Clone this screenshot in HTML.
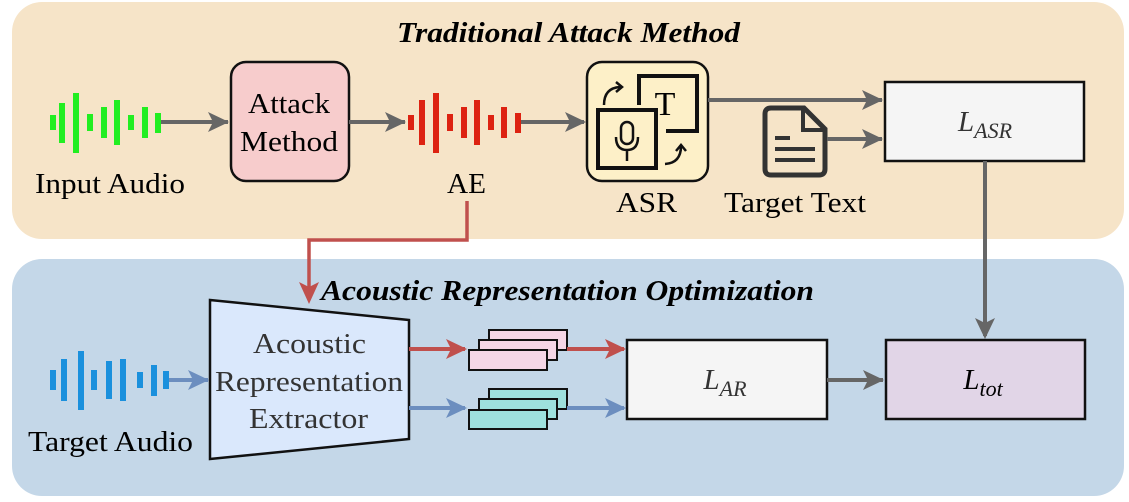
<!DOCTYPE html>
<html><head><meta charset="utf-8"><style>
html,body{margin:0;padding:0;background:#fff;}
svg{display:block;}
svg text{font-family:"Liberation Serif","Times New Roman","DejaVu Serif",serif !important;}
</style></head><body>
<svg width="1129" height="502" viewBox="0 0 1129 502" xmlns="http://www.w3.org/2000/svg" font-family="Liberation Serif, Times New Roman, DejaVu Serif, serif">
<!-- panels -->
<rect x="12" y="2" width="1112" height="237" rx="30" fill="#f6e4c8"/>
<rect x="12" y="259" width="1112" height="237" rx="30" fill="#c4d7e8"/>
<text x="397" y="42" font-size="29" font-weight="bold" font-style="italic" textLength="343" lengthAdjust="spacingAndGlyphs">Traditional Attack Method</text>
<text x="321" y="300" font-size="29" font-weight="bold" font-style="italic" textLength="493" lengthAdjust="spacingAndGlyphs">Acoustic Representation Optimization</text>

<!-- green waveform -->
<g fill="#22ee22">
<rect x="50" y="115" width="6" height="15"/><rect x="59" y="103" width="6" height="40"/><rect x="73" y="93" width="6" height="60"/>
<rect x="87" y="114" width="6" height="17"/><rect x="101" y="107" width="6" height="31"/><rect x="114" y="100" width="6" height="45"/>
<rect x="128" y="115" width="6" height="15"/><rect x="142" y="107" width="6" height="31"/><rect x="155" y="113" width="6" height="20"/>
</g>
<line x1="161" y1="122" x2="228" y2="122" stroke="#666" stroke-width="4"/>
<path d="M208,112 L229,122 L208,132 L213,122z" fill="#666"/>
<text x="35" y="193" font-size="29" textLength="150" lengthAdjust="spacingAndGlyphs">Input Audio</text>

<rect x="231" y="62" width="118" height="119" rx="15" fill="#f7cccc" stroke="#111" stroke-width="2.5"/>
<text x="248" y="113" font-size="29" textLength="82" lengthAdjust="spacingAndGlyphs">Attack</text>
<text x="240" y="151" font-size="29" textLength="98" lengthAdjust="spacingAndGlyphs">Method</text>
<line x1="349" y1="122" x2="405" y2="122" stroke="#666" stroke-width="4"/>
<path d="M385,112 L406,122 L385,132 L390,122z" fill="#666"/>

<!-- red waveform -->
<g fill="#dd2211">
<rect x="408" y="115" width="6" height="15"/><rect x="419" y="100" width="6" height="45"/><rect x="433" y="93" width="6" height="60"/>
<rect x="447" y="114" width="6" height="17"/><rect x="461" y="107" width="6" height="31"/><rect x="474" y="100" width="6" height="45"/>
<rect x="488" y="115" width="6" height="15"/><rect x="501" y="107" width="6" height="31"/><rect x="515" y="113" width="6" height="20"/>
</g>
<line x1="521" y1="122" x2="584" y2="122" stroke="#666" stroke-width="4"/>
<path d="M565,112 L586,122 L565,132 L570,122z" fill="#666"/>
<text x="447" y="193" font-size="29" textLength="39" lengthAdjust="spacingAndGlyphs">AE</text>

<!-- ASR -->
<rect x="587" y="62" width="121" height="119" rx="15" fill="#fdf0c8" stroke="#111" stroke-width="2.5"/>
<path d="M639,105 L639,76 L697,76 L697,131 L666,131" fill="none" stroke="#111" stroke-width="4"/>
<text x="665" y="115" font-size="34" text-anchor="middle">T</text>
<rect x="598" y="110" width="58" height="58" fill="none" stroke="#111" stroke-width="4"/>
<rect x="621" y="122" width="12" height="22" rx="6" fill="none" stroke="#111" stroke-width="2.5"/>
<path d="M616,137 Q616,150 627,150 Q638,150 638,137 M627,150 L627,161" fill="none" stroke="#111" stroke-width="2.5"/>
<path d="M604,105 Q604,88 620,87" fill="none" stroke="#111" stroke-width="2.5"/>
<path d="M616,82 L622,87 L616,92" fill="none" stroke="#111" stroke-width="2.5"/>
<path d="M665,164 Q681,163 681,146" fill="none" stroke="#111" stroke-width="2.5"/>
<path d="M676,151 L681,145 L686,151" fill="none" stroke="#111" stroke-width="2.5"/>
<text x="616" y="212" font-size="29" textLength="61" lengthAdjust="spacingAndGlyphs">ASR</text>

<line x1="708" y1="100" x2="882" y2="100" stroke="#666" stroke-width="4"/>
<path d="M862,90 L883,100 L862,110 L867,100z" fill="#666"/>

<!-- document icon -->
<path d="M771,108 L804,108 L825,129 L825,169 Q825,175 819,175 L771,175 Q765,175 765,169 L765,114 Q765,108 771,108z" fill="none" stroke="#333" stroke-width="5"/>
<path d="M803,108 L803,130 L825,130" fill="none" stroke="#333" stroke-width="4"/>
<path d="M775,138 L790,138 M775,149 L815,149 M775,160 L815,160" stroke="#333" stroke-width="4"/>
<line x1="827" y1="139" x2="882" y2="139" stroke="#666" stroke-width="4"/>
<path d="M862,129 L883,139 L862,149 L867,139z" fill="#666"/>
<text x="724" y="212" font-size="29" textLength="142" lengthAdjust="spacingAndGlyphs">Target Text</text>

<rect x="885" y="82" width="199" height="79" fill="#f5f5f5" stroke="#111" stroke-width="2.5"/>
<text x="985" y="131" font-size="29" font-style="italic" text-anchor="middle" fill="#333">L<tspan font-size="22" dy="7">ASR</tspan></text>
<line x1="985" y1="161" x2="985" y2="336" stroke="#666" stroke-width="4"/>
<path d="M975,318 L985,339 L995,318 L985,323z" fill="#666"/>

<!-- red connector -->
<path d="M467,201 L467,240 L309,240 L309,298" fill="none" stroke="#c0504d" stroke-width="3.5"/>
<path d="M299,282 L309,304 L319,282 L309,287z" fill="#c0504d"/>

<!-- blue waveform -->
<g fill="#1a90dd">
<rect x="50" y="370" width="6" height="20"/><rect x="61" y="359" width="6" height="42"/><rect x="78" y="351" width="6" height="59"/>
<rect x="91" y="370" width="6" height="20"/><rect x="106" y="361" width="6" height="38"/><rect x="120" y="359" width="6" height="42"/>
<rect x="137" y="372" width="6" height="16"/><rect x="151" y="365" width="6" height="31"/><rect x="163" y="371" width="6" height="18"/>
</g>
<line x1="169" y1="380" x2="208" y2="380" stroke="#6c8ebf" stroke-width="4"/>
<path d="M188,370 L209,380 L188,390 L193,380z" fill="#6c8ebf"/>
<text x="28" y="451" font-size="29" textLength="165" lengthAdjust="spacingAndGlyphs">Target Audio</text>

<path d="M210,300 L409,320 L409,439 L210,459z" fill="#dae8fc" stroke="#111" stroke-width="2.5"/>
<g font-size="29" fill="#333">
<text x="253" y="353" textLength="113" lengthAdjust="spacingAndGlyphs">Acoustic</text>
<text x="215" y="391" textLength="188" lengthAdjust="spacingAndGlyphs">Representation</text>
<text x="249" y="428" textLength="119" lengthAdjust="spacingAndGlyphs">Extractor</text>
</g>

<line x1="409" y1="349" x2="465" y2="349" stroke="#c0504d" stroke-width="4"/>
<path d="M446,339 L467,349 L446,359 L451,349z" fill="#c0504d"/>
<line x1="409" y1="408" x2="465" y2="408" stroke="#6c8ebf" stroke-width="4"/>
<path d="M446,398 L467,408 L446,418 L451,408z" fill="#6c8ebf"/>

<g stroke="#111" stroke-width="2">
<rect x="489" y="330" width="78" height="20" fill="#f5d6e6"/>
<rect x="479" y="340" width="78" height="20" fill="#f5d6e6"/>
<rect x="469" y="350" width="78" height="20" fill="#f5d6e6"/>
<rect x="489" y="389" width="78" height="20" fill="#9ee0dd"/>
<rect x="479" y="399" width="78" height="20" fill="#9ee0dd"/>
<rect x="469" y="410" width="78" height="19" fill="#9ee0dd"/>
</g>
<line x1="567" y1="349" x2="624" y2="349" stroke="#c0504d" stroke-width="4"/>
<path d="M605,339 L626,349 L605,359 L610,349z" fill="#c0504d"/>
<line x1="567" y1="408" x2="624" y2="408" stroke="#6c8ebf" stroke-width="4"/>
<path d="M605,398 L626,408 L605,418 L610,408z" fill="#6c8ebf"/>

<rect x="627" y="340" width="200" height="79" fill="#f5f5f5" stroke="#111" stroke-width="2.5"/>
<text x="725" y="389" font-size="29" font-style="italic" text-anchor="middle" fill="#333">L<tspan font-size="22" dy="7">AR</tspan></text>
<line x1="827" y1="380" x2="883" y2="380" stroke="#666" stroke-width="4"/>
<path d="M863,370 L884,380 L863,390 L868,380z" fill="#666"/>
<rect x="886" y="340" width="199" height="79" fill="#e1d5e7" stroke="#111" stroke-width="2.5"/>
<text x="983" y="389" font-size="29" font-style="italic" text-anchor="middle">L<tspan font-size="22" dy="7">tot</tspan></text>
</svg>
</body></html>
